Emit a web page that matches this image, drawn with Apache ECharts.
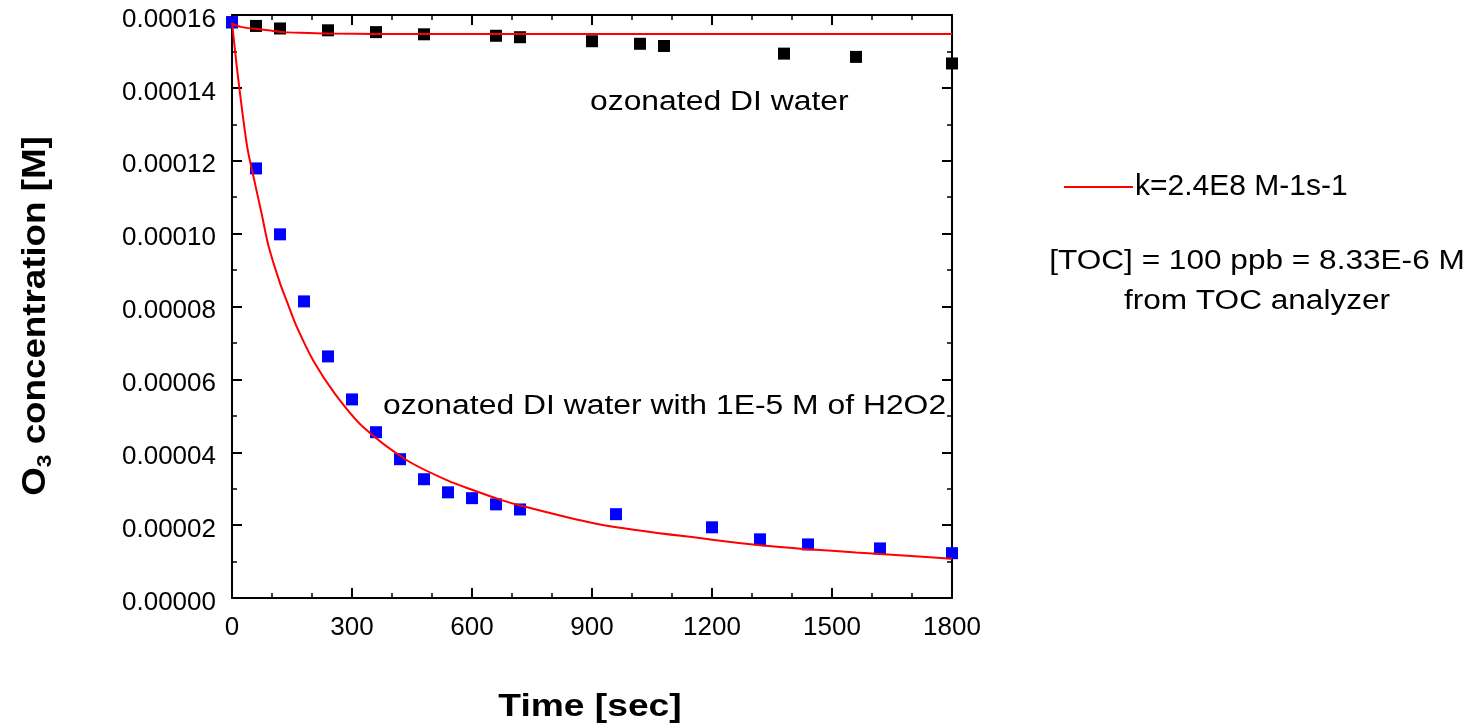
<!DOCTYPE html>
<html>
<head>
<meta charset="utf-8">
<script src="https://cdn.jsdelivr.net/npm/echarts@6/dist/echarts.min.js"></script>
<style>html,body{margin:0;padding:0;background:#fff}#c{width:1476px;height:728px}</style>
</head>
<body>
<div id="c"></div>
<script>
// ---- data ----
var xTicks = [0, 300, 600, 900, 1200, 1500, 1800];
var yTicks = ['0.00000','0.00002','0.00004','0.00006','0.00008','0.00010','0.00012','0.00014','0.00016'];

var diTime = [0, 60, 120, 240, 360, 480, 660, 720, 900, 1020, 1080, 1380, 1560, 1800];
var diConc = [0.0001580, 0.0001570, 0.0001563, 0.0001558, 0.0001553, 0.0001547, 0.0001543, 0.0001539, 0.0001528, 0.0001521, 0.0001515, 0.0001494, 0.0001485, 0.0001467];

var h2o2Time = [0, 60, 120, 180, 240, 300, 360, 420, 480, 540, 600, 660, 720, 960, 1200, 1320, 1440, 1620, 1800];
var h2o2Conc = [0.0001580, 0.0001179, 0.0000998, 0.0000814, 0.0000663, 0.0000545, 0.0000455, 0.0000381, 0.0000326, 0.0000290, 0.0000274, 0.0000257, 0.0000243, 0.0000230, 0.0000194, 0.0000161, 0.0000147, 0.0000136, 0.0000123];

var fitDiTime = [0, 20, 40, 70, 100, 130, 170, 240, 360, 600, 900, 1200, 1500, 1800];
var fitDiConc = [0.0001576, 0.0001568, 0.0001564, 0.0001561, 0.0001557, 0.0001553, 0.0001551, 0.0001549, 0.0001548, 0.0001548, 0.0001548, 0.0001548, 0.0001548, 0.0001548];

var fitH2o2Time = [0, 16, 38, 57, 74, 92, 120, 140, 162, 203, 257, 328, 437, 540, 600, 670, 720, 920, 1200, 1320, 1440, 1560, 1620, 1800];
var fitH2o2Conc = [0.0001580, 0.0001421, 0.0001238, 0.0001140, 0.0001055, 0.0000963, 0.0000864, 0.0000806, 0.0000744, 0.0000652, 0.0000561, 0.0000469, 0.0000378, 0.0000322, 0.0000297, 0.0000270, 0.0000254, 0.0000202, 0.0000160, 0.0000145, 0.0000134, 0.0000125, 0.0000121, 0.0000108];

var fitLabel = 'k=2.4E8 M-1s-1';
var noteDI = 'ozonated DI water';
var noteH2O2 = 'ozonated DI water with 1E-5 M of H2O2';
var noteTOC1 = '[TOC] = 100 ppb = 8.33E-6 M';
var noteTOC2 = 'from TOC analyzer';

function zip(a, b) { return a.map(function (v, i) { return [v, b[i]]; }); }

var FONT = '"Liberation Sans", Arial, Helvetica, sans-serif';
var chart = echarts.init(document.getElementById('c'), null, {renderer: 'canvas'});

function xAx(pos, showLabel) {
  return {
    type: 'value', position: pos, min: 0, max: 1800, interval: 300,
    axisLine: {show: true, onZero: false, lineStyle: {color: '#000', width: 2}},
    axisTick: {show: true, inside: true, length: 10, lineStyle: {color: '#000', width: 2}},
    minorTick: {show: true, splitNumber: 3, length: 5, lineStyle: {color: '#000', width: 1.5}},
    splitLine: {show: false},
    axisLabel: {show: showLabel, margin: 17, color: '#000', fontSize: 26, fontFamily: FONT,
      formatter: function (v) { return xTicks.indexOf(v) >= 0 ? String(v) : ''; }}
  };
}
function yAx(pos, showLabel) {
  return {
    type: 'value', position: pos, min: 0, max: 0.00016, interval: 0.00002,
    axisLine: {show: true, onZero: false, lineStyle: {color: '#000', width: 2}},
    axisTick: {show: true, inside: true, length: 10, lineStyle: {color: '#000', width: 2}},
    minorTick: {show: true, splitNumber: 2, length: 5, lineStyle: {color: '#000', width: 1.5}},
    splitLine: {show: false},
    axisLabel: {show: showLabel, margin: 16, color: '#000', fontSize: 26, fontFamily: FONT,
      verticalAlign: 'top', lineHeight: 9,
      formatter: function (v) { return yTicks[Math.round(v / 0.00002)]; }}
  };
}

var option = {
  backgroundColor: '#fff',
  animation: false,
  grid: {left: 232, top: 15, right: 524, bottom: 130, containLabel: false},
  xAxis: [xAx('bottom', true), xAx('top', false)],
  yAxis: [yAx('left', true), yAx('right', false)],
  legend: {
    show: true, data: [fitLabel], left: 1059, top: 167, orient: 'vertical',
    icon: 'rect', itemWidth: 69, itemHeight: 2, itemGap: 6,
    textStyle: {color: '#000', fontSize: 30, fontFamily: FONT, padding: [0, 0, 0, -3]},
    selectedMode: false
  },
  series: [
    {name: noteDI, type: 'scatter', data: zip(diTime, diConc), symbol: 'rect', symbolSize: 12,
      itemStyle: {color: '#000000', opacity: 1}, z: 2},
    {name: noteH2O2, type: 'scatter', data: zip(h2o2Time, h2o2Conc), symbol: 'rect', symbolSize: 12,
      itemStyle: {color: '#0000ff', opacity: 1}, z: 3},
    {name: fitLabel, type: 'line', data: zip(fitDiTime, fitDiConc), smooth: 0.3,
      showSymbol: false, symbol: 'none', lineStyle: {color: '#ff0000', width: 2}, itemStyle: {color: '#ff0000'}, z: 5},
    {name: fitLabel, type: 'line', data: zip(fitH2o2Time, fitH2o2Conc), smooth: 0.3,
      showSymbol: false, symbol: 'none', lineStyle: {color: '#ff0000', width: 2}, itemStyle: {color: '#ff0000'}, z: 5}
  ],
  graphic: [
    {type: 'text', x: 590, y: 103, scaleX: 1.18, style: {text: noteDI, fill: '#000', font: '27px ' + FONT, textAlign: 'left', textVerticalAlign: 'middle'}},
    {type: 'text', x: 383, y: 407, scaleX: 1.18, style: {text: noteH2O2, fill: '#000', font: '27px ' + FONT, textAlign: 'left', textVerticalAlign: 'middle'}},
    {type: 'text', x: 1257, y: 262, scaleX: 1.17, style: {text: noteTOC1, fill: '#000', font: '27px ' + FONT, textAlign: 'center', textVerticalAlign: 'middle'}},
    {type: 'text', x: 1257, y: 302, scaleX: 1.17, style: {text: noteTOC2, fill: '#000', font: '27px ' + FONT, textAlign: 'center', textVerticalAlign: 'middle'}},
    {type: 'text', x: 590, y: 707, scaleX: 1.2, style: {text: 'Time [sec]', fill: '#000', font: 'bold 31px ' + FONT, textAlign: 'center', textVerticalAlign: 'middle'}},
    {type: 'text', x: 36, y: 316, rotation: Math.PI / 2, scaleX: 1.08,
      style: {text: '{b|O}{s|3}{b| concentration [M]}', fill: '#000', textAlign: 'center', textVerticalAlign: 'middle',
        rich: {
          b: {fontSize: 34, fontWeight: 'bold', fontFamily: FONT, lineHeight: 40, fill: '#000'},
          s: {fontSize: 21, fontWeight: 'bold', fontFamily: FONT, lineHeight: 22, verticalAlign: 'bottom', fill: '#000'}
        }}}
  ]
};
chart.setOption(option);
</script>
</body>
</html>
